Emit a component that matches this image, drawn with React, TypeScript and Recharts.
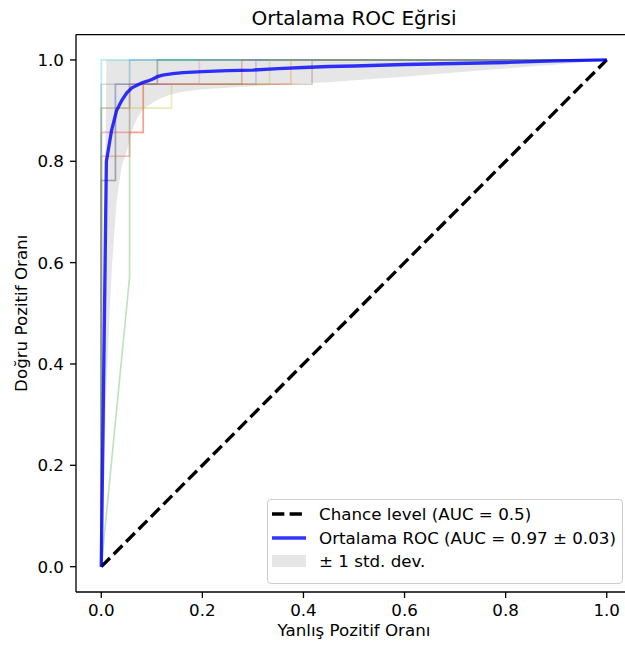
import React from 'react';
import { ComposedChart, Line, Area, XAxis, YAxis, ReferenceLine } from 'recharts';

// mean ROC on a common fpr grid
const meanFpr = [0, 0.0101, 0.0202, 0.0303, 0.0404, 0.0505, 0.0606, 0.0707, 0.0808, 0.0909, 0.101, 0.1111, 0.1212, 0.1414, 0.1616, 0.2, 0.25, 0.3, 0.35, 0.4, 0.45, 0.5, 0.6, 0.7, 0.8, 0.9, 1.0];
const meanTpr = [0, 0.80, 0.86, 0.90, 0.92, 0.935, 0.945, 0.95, 0.955, 0.958, 0.962, 0.967, 0.97, 0.973, 0.975, 0.977, 0.979, 0.98, 0.983, 0.985, 0.987, 0.988, 0.991, 0.993, 0.995, 0.998, 1.0];
const tprLower = [0, 0.35, 0.58, 0.72, 0.79, 0.82, 0.86, 0.885, 0.9, 0.908, 0.915, 0.921, 0.926, 0.933, 0.937, 0.942, 0.945, 0.948, 0.951, 0.954, 0.956, 0.96, 0.967, 0.975, 0.983, 0.991, 1.0];
const tprUpper = [0, 1, 1, 1, 1, 1, 1, 1, 1, 1, 1, 1, 1, 1, 1, 1, 1, 1, 1, 1, 1, 1, 1, 1, 1, 1, 1];

// individual folds (step curves)
const foldFpr = [
  [0, 0, 0.028, 0.028, 0.056, 0.056, 1],
  [0, 0, 0.056, 0.056, 0.083, 0.083, 0.375, 0.375, 1],
  [0, 0.056, 0.056, 0.111, 0.111, 1],
  [0, 0, 0.083, 0.083, 0.278, 0.278, 1],
  [0, 0, 0.028, 0.028, 0.306, 0.306, 1],
  [0, 0, 0.028, 0.028, 0.056, 0.056, 0.417, 0.417, 1],
  [0, 0, 0.056, 0.056, 0.194, 0.194, 1],
  [0, 0, 0.111, 0.111, 1],
  [0, 0, 0.139, 0.139, 0.333, 0.333, 1],
  [0, 0, 1],
];
const foldTpr = [
  [0, 0.762, 0.762, 0.952, 0.952, 1, 1],
  [0, 0.81, 0.81, 0.857, 0.857, 0.952, 0.952, 1, 1],
  [0, 0.571, 0.952, 0.952, 1, 1],
  [0, 0.857, 0.857, 0.952, 0.952, 1, 1],
  [0, 0.905, 0.905, 0.952, 0.952, 1, 1],
  [0, 0.762, 0.762, 0.905, 0.905, 0.952, 0.952, 1, 1],
  [0, 0.81, 0.81, 0.952, 0.952, 1, 1],
  [0, 0.952, 0.952, 1, 1],
  [0, 0.905, 0.905, 0.952, 0.952, 1, 1],
  [0, 1, 1],
];
const foldColors = ['#1f77b4', '#ff7f0e', '#2ca02c', '#d62728', '#9467bd', '#8c564b', '#e377c2', '#7f7f7f', '#bcbd22', '#17becf'];

const chanceFpr = [0, 1];
const chanceTpr = [0, 1];

const ticks = [0, 0.2, 0.4, 0.6, 0.8, 1.0];

const legendItems = [
  { label: 'Chance level (AUC = 0.5)', kind: 'dash' },
  { label: 'Ortalama ROC (AUC = 0.97 ± 0.03)', kind: 'line' },
  { label: '± 1 std. dev.', kind: 'patch' },
];

const FONT = '"DejaVu Sans", sans-serif';

const App: React.FC = () => {
  const meanData = meanFpr.map((f, i) => ({
    fpr: f,
    mean: meanTpr[i],
    band: [tprLower[i], tprUpper[i]],
  }));
  const folds = foldFpr.map((xs, k) => xs.map((f, i) => ({ fpr: f, tpr: foldTpr[k][i] })));
  const chance = chanceFpr.map((f, i) => ({ fpr: f, tpr: chanceTpr[i] }));

  const tickStyle = { fill: '#000', fontSize: 16.7, fontFamily: FONT };

  return (
    <div style={{ position: 'absolute', left: 0, top: 0, width: 625, height: 648, overflow: 'hidden', background: '#fff', fontFamily: FONT }}>
      <div style={{ position: 'absolute', left: 76, width: 556, top: 6, textAlign: 'center', fontSize: 20, lineHeight: '24px', color: '#000' }}>
        Ortalama ROC Eğrisi
      </div>
      <ComposedChart width={640} height={648} data={meanData} margin={{ top: 34.6, right: 8, left: 0, bottom: 0 }}>
        <XAxis
          type="number"
          dataKey="fpr"
          domain={[-0.05, 1.05]}
          ticks={ticks}
          allowDataOverflow
          height={56}
          tickSize={6}
          tickMargin={6}
          tick={tickStyle}
          tickFormatter={(v: number) => v.toFixed(1)}
          stroke="#000"
          strokeWidth={1.33}
          label={{ value: 'Yanlış Pozitif Oranı', position: 'insideBottom', offset: 12, style: { fill: '#000', fontSize: 16.7, fontFamily: FONT } }}
        />
        <YAxis
          type="number"
          domain={[-0.05, 1.05]}
          ticks={ticks}
          allowDataOverflow
          width={76}
          tickSize={6}
          tickMargin={6}
          tick={tickStyle}
          tickFormatter={(v: number) => v.toFixed(1)}
          stroke="#000"
          strokeWidth={1.33}
          label={{ value: 'Doğru Pozitif Oranı', angle: -90, position: 'insideLeft', offset: 21, style: { textAnchor: 'middle', fill: '#000', fontSize: 16.7, fontFamily: FONT } }}
        />
        {/* top and right spines */}
        <ReferenceLine y={1.05} stroke="#000" strokeWidth={1.33} />
        <ReferenceLine x={1.05} stroke="#000" strokeWidth={1.33} />
        {folds.map((d, k) => (
          <Line
            key={k}
            data={d}
            dataKey="tpr"
            type="linear"
            stroke={foldColors[k]}
            strokeOpacity={0.3}
            strokeWidth={1.67}
            dot={false}
            activeDot={false}
            isAnimationActive={false}
          />
        ))}
        <Line
          data={chance}
          dataKey="tpr"
          type="linear"
          stroke="#000"
          strokeWidth={3.33}
          strokeDasharray="12.3 5.3"
          dot={false}
          activeDot={false}
          isAnimationActive={false}
        />
        <Line
          dataKey="mean"
          type="linear"
          stroke="#0000ff"
          strokeOpacity={0.8}
          strokeWidth={3.33}
          dot={false}
          activeDot={false}
          isAnimationActive={false}
        />
        <Area
          dataKey="band"
          type="linear"
          fill="#808080"
          fillOpacity={0.2}
          stroke="none"
          isAnimationActive={false}
        />
      </ComposedChart>
      <div style={{ position: 'absolute', left: 267, top: 499, width: 356, height: 85, boxSizing: 'border-box', border: '1px solid #cccccc', borderRadius: 4, background: 'rgba(255,255,255,0.8)' }}>
        {legendItems.map((item, i) => (
          <div key={i} style={{ position: 'absolute', left: 4, top: 4 + i * 23.5, height: 20, display: 'flex', alignItems: 'center', whiteSpace: 'nowrap', fontSize: 16.7, color: '#000' }}>
            <svg width={34} height={20} style={{ marginRight: 13 }}>
              {item.kind === 'dash' && <line x1={0} y1={10} x2={34} y2={10} stroke="#000" strokeWidth={3.33} strokeDasharray="12.3 5.3" />}
              {item.kind === 'line' && <line x1={0} y1={10} x2={34} y2={10} stroke="#0000ff" strokeOpacity={0.8} strokeWidth={3.33} />}
              {item.kind === 'patch' && <rect x={0} y={4} width={34} height={12} fill="#808080" fillOpacity={0.2} />}
            </svg>
            <span>{item.label}</span>
          </div>
        ))}
      </div>
    </div>
  );
};

export default App;
